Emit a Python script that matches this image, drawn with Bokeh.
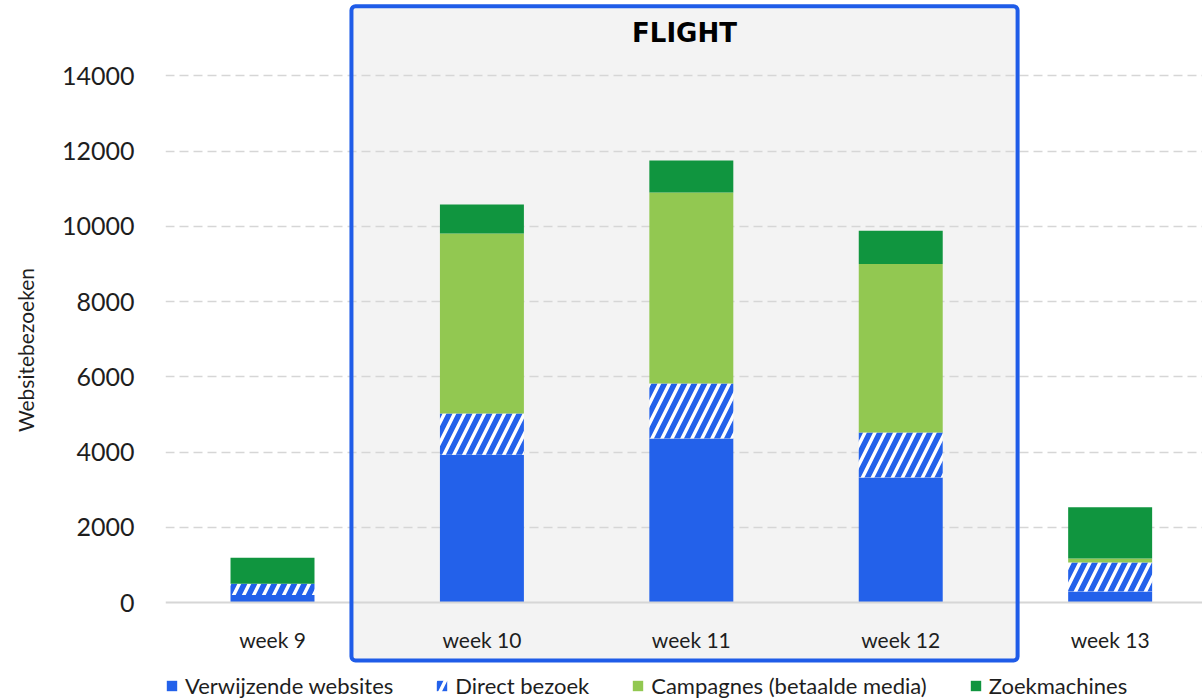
from bokeh.plotting import figure
from bokeh.models import (Range1d, FixedTicker, BoxAnnotation, Label, Legend,
                          LegendItem, ColumnDataSource)
from bokeh.embed import file_html
from bokeh.resources import INLINE

# Weekly website visits per traffic source
weeks = ["week 9", "week 10", "week 11", "week 12", "week 13"]
verwijzende_websites = [200, 3930, 4360, 3320, 290]
direct_bezoek = [300, 1090, 1460, 1200, 770]
campagnes = [0, 4790, 5080, 4480, 110]
zoekmachines = [690, 770, 850, 880, 1360]

y_ticks = [0, 2000, 4000, 6000, 8000, 10000, 12000, 14000]
series_labels = ["Verwijzende websites", "Direct bezoek",
                 "Campagnes (betaalde media)", "Zoekmachines"]

# flight period covers week 10 .. week 12
flight_first, flight_last = 1, 3

BLUE = "#2361EA"
LIGHT_GREEN = "#92C851"
DARK_GREEN = "#10953F"
BORDER_BLUE = "#1F5CE8"
TEXT = "#1E1E1E"
FONT = "Lato"

xs = list(range(len(weeks)))
t1 = list(verwijzende_websites)
t2 = [a + b for a, b in zip(t1, direct_bezoek)]
t3 = [a + b for a, b in zip(t2, campagnes)]
t4 = [a + b for a, b in zip(t3, zoekmachines)]
src = ColumnDataSource(dict(x=xs, t1=t1, t2=t2, t3=t3, t4=t4))

# the frame spans the full height; the value axis reaches below zero so the
# week labels and the legend sit inside it
p = figure(width=1202, height=699, output_backend="svg", toolbar_location=None,
           x_range=Range1d(-0.511, 4.441), y_range=Range1d(-2578, 16000),
           min_border_left=165, min_border_right=0, min_border_top=0,
           min_border_bottom=0)
p.outline_line_color = None
p.background_fill_color = "white"
p.border_fill_color = "white"

# shaded flight panel, under grid and bars
box_left, box_right = flight_first - 0.623, flight_last + 0.558
box_top, box_bottom = 15845, -1540
p.add_layout(BoxAnnotation(left=box_left, right=box_right, top=box_top, bottom=box_bottom,
                           fill_color="#F3F3F3", fill_alpha=1.0, line_color=None,
                           level="image"))

w = 0.401
r1 = p.vbar(x="x", width=w, bottom=0, top="t1", source=src,
            fill_color=BLUE, line_color=None)
r2 = p.vbar(x="x", width=w, bottom="t1", top="t2", source=src,
            fill_color="white", hatch_pattern="/", hatch_color=BLUE,
            hatch_scale=20, hatch_weight=5.5, line_color=None)
r3 = p.vbar(x="x", width=w, bottom="t2", top="t3", source=src,
            fill_color=LIGHT_GREEN, line_color=None)
r4 = p.vbar(x="x", width=w, bottom="t3", top="t4", source=src,
            fill_color=DARK_GREEN, line_color=None)

# panel border
p.add_layout(BoxAnnotation(left=box_left, right=box_right, top=box_top, bottom=box_bottom,
                           fill_alpha=0, line_color=BORDER_BLUE, line_alpha=1.0,
                           line_width=4, border_radius=4, level="annotation"))
p.add_layout(Label(x=(box_left + box_right) / 2, y=15130, text="FLIGHT",
                   text_align="center", text_baseline="middle",
                   text_font="DejaVu Sans", text_font_style="bold",
                   text_font_size="26px", text_color="black"))

# grid
p.xgrid.visible = False
p.ygrid.ticker = FixedTicker(ticks=y_ticks[1:])
p.ygrid.grid_line_color = "#D6D6D6"
p.ygrid.grid_line_width = 1.5
p.ygrid.grid_line_dash = "9 5"

# y axis
ya = p.yaxis[0]
ya.ticker = FixedTicker(ticks=y_ticks)
ya.axis_line_color = None
ya.major_tick_line_color = None
ya.minor_tick_line_color = None
ya.major_label_standoff = 25
ya.major_label_text_font = FONT
ya.major_label_text_font_size = "25px"
ya.major_label_text_color = TEXT
ya.axis_label = "Websitebezoeken"
ya.axis_label_text_font = FONT
ya.axis_label_text_font_size = "21px"
ya.axis_label_text_font_style = "normal"
ya.axis_label_text_color = TEXT
ya.axis_label_standoff = 21

# x axis pinned at zero; its line is the baseline
xa = p.xaxis[0]
xa.fixed_location = 0
xa.ticker = FixedTicker(ticks=xs)
xa.major_label_overrides = {i: wk for i, wk in zip(xs, weeks)}
xa.axis_line_color = "#D6D6D6"
xa.axis_line_width = 2
xa.major_tick_line_color = None
xa.minor_tick_line_color = None
xa.major_label_standoff = 18
xa.major_label_text_font = FONT
xa.major_label_text_font_size = "21px"
xa.major_label_text_color = TEXT

legend = Legend(items=[LegendItem(label=lbl, renderers=[r])
                       for lbl, r in zip(series_labels, [r1, r2, r3, r4])],
                orientation="horizontal", location=(0, 0),
                border_line_color=None, background_fill_alpha=0,
                padding=0, margin=0, spacing=42, glyph_width=13, glyph_height=13,
                label_standoff=7, label_text_font=FONT, label_text_font_size="22px",
                label_text_color=TEXT)
p.add_layout(legend, "center")

open("out.html", "w").write(file_html(p, INLINE))
